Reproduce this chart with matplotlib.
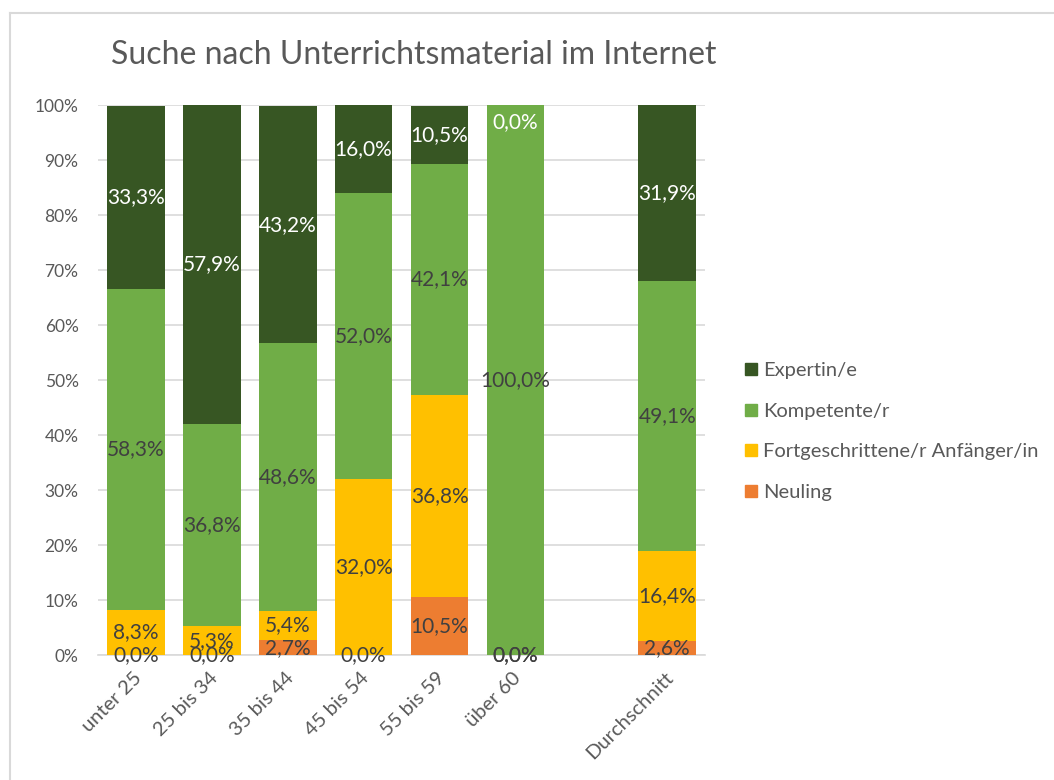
import matplotlib.pyplot as plt
import numpy as np
from matplotlib.lines import Line2D
from matplotlib.transforms import ScaledTranslation

plt.rcParams['font.family'] = ['Lato', 'DejaVu Sans']

# Data (percent), stacked bottom-up
categories = ['unter 25', '25 bis 34', '35 bis 44', '45 bis 54', '55 bis 59', 'über 60', '', 'Durchschnitt']
series_names = ['Neuling', 'Fortgeschrittene/r Anfänger/in', 'Kompetente/r', 'Expertin/e']
neuling = [0.0, 0.0, 2.7, 0.0, 10.5, 0.0, None, 2.6]
fortgeschritten = [8.3, 5.3, 5.4, 32.0, 36.8, 0.0, None, 16.4]
kompetent = [58.3, 36.8, 48.6, 52.0, 42.1, 100.0, None, 49.1]
experte = [33.3, 57.9, 43.2, 16.0, 10.5, 0.0, None, 31.9]

# which zero values get a label (Excel shows some zeros)
show_zero = {
    'Neuling': [True, True, False, True, False, True, False, False],
    'Fortgeschrittene/r Anfänger/in': [False, False, False, False, False, True, False, False],
    'Kompetente/r': [False] * 8,
    'Expertin/e': [False, False, False, False, False, True, False, False],
}

colors = ['#ed7d31', '#ffc000', '#70ad47', '#375623']
text_colors = ['#404040', '#404040', '#404040', 'white']
series = [neuling, fortgeschritten, kompetent, experte]

fig = plt.figure(figsize=(10.54, 7.8), dpi=100)
ax = fig.add_axes([0.093, 0.160, 0.576, 0.705])

x = np.arange(len(categories))
bottom = np.zeros(len(categories))
for name, vals, col, tcol in zip(series_names, series, colors, text_colors):
    v = np.array([0 if a is None else a for a in vals], dtype=float)
    ax.bar(x, v, 0.76, bottom=bottom, color=col, zorder=3)
    for i, a in enumerate(vals):
        if a is None:
            continue
        if a == 0 and not show_zero[name][i]:
            continue
        yc = bottom[i] + a / 2
        yc = min(yc, 97)
        ax.text(x[i], yc, f'{a:.1f}%'.replace('.', ','), ha='center', va='center',
                color=tcol, fontsize=15, zorder=4)
    bottom += v

ax.set_xlim(-0.5, 7.5)
ax.set_ylim(0, 100)
ax.set_yticks(np.arange(0, 101, 10))
ax.set_yticklabels([f'{t}%' for t in range(0, 101, 10)])
ax.yaxis.grid(True, color='#d9d9d9', linewidth=1.2, zorder=0)
ax.set_axisbelow(True)
for s in ['top', 'right', 'left']:
    ax.spines[s].set_visible(False)
ax.spines['bottom'].set_color('#d9d9d9')
ax.spines['bottom'].set_linewidth(1.2)
ax.tick_params(axis='both', length=0, labelsize=12.5, labelcolor='#595959')
ax.tick_params(axis='y', pad=14)
ax.tick_params(axis='x', pad=10)
ax.set_xticks(x)
ax.set_xticklabels(categories, rotation=45, ha='right', va='top', rotation_mode='anchor',
                   fontsize=14.5)
for lbl in ax.get_xticklabels():
    lbl.set_transform(lbl.get_transform() + ScaledTranslation(-3 / 100, 0, fig.dpi_scale_trans))

fig.text(0.105, 0.93, 'Suche nach Unterrichtsmaterial im Internet', fontsize=23,
         color='#595959', va='center', ha='left')

handles = [Line2D([0], [0], marker='s', linestyle='none', markersize=9,
                  markerfacecolor=c, markeredgecolor=c) for c in colors[::-1]]
fig.legend(handles, series_names[::-1], loc='center left', bbox_to_anchor=(0.686, 0.447),
           frameon=False, fontsize=14.5, labelcolor='#595959', labelspacing=1.17,
           handletextpad=0.1, handlelength=1.0)

# chart border
fig.add_artist(Line2D([0.0095, 1.0], [0.983, 0.983], transform=fig.transFigure, color='#d9d9d9', linewidth=1.5))
fig.add_artist(Line2D([0.0095, 0.0095], [0.0, 0.983], transform=fig.transFigure, color='#d9d9d9', linewidth=1.5))

fig.savefig('out.png', dpi=100)
